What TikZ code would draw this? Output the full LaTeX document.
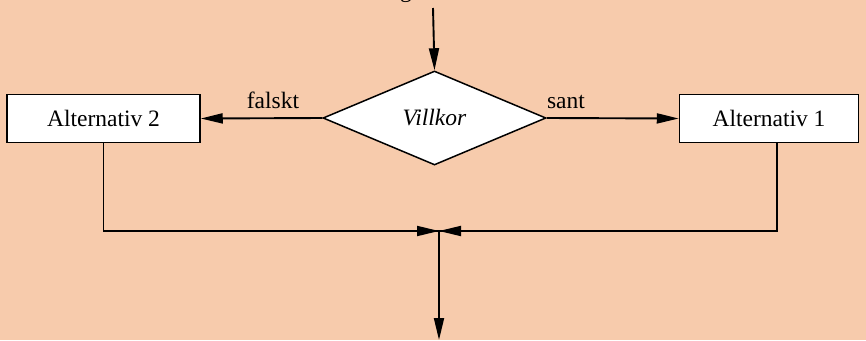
\documentclass[tikz,border=0pt]{standalone}
\usepackage{fontspec}
\setmainfont{Liberation Serif}
\usetikzlibrary{arrows.meta,shapes.geometric}
\definecolor{bgpeach}{RGB}{247,203,172}
\tikzset{
  flow/.style={line width=1.9pt, -{Triangle[length=22pt,width=10pt]}},
  plain/.style={line width=1.9pt},
  procbox/.style={draw, line width=1.5pt, fill=white, minimum width=193pt, minimum height=48pt, inner sep=0pt, font=\fontsize{23.5}{26}\selectfont},
  cond/.style={draw, line width=1.5pt, fill=white, diamond, aspect=2.37, minimum width=223pt, minimum height=94pt, inner sep=0pt, font=\fontsize{23.5}{26}\selectfont\itshape},
  lbl/.style={font=\fontsize{23.5}{26}\selectfont, inner sep=0pt}
}
\begin{document}
\begin{tikzpicture}[x=1pt,y=-1pt]
  \path[fill=bgpeach] (0,0) rectangle (866,340);
  \useasboundingbox (0,0) rectangle (866,340);
  % entry label, mostly above the page edge
  \node[lbl, anchor=base] (entry) at (406,-2) {g};
  \coordinate (top) at (433,8);
  \coordinate (join) at (439,231);
  \coordinate (out) at (439,340);
  \node[cond] (villkor) at (434.5,118) {Villkor};
  \node[procbox] (alt2) at (103.5,118.5) {Alternativ 2};
  \node[procbox, minimum width=179pt] (alt1) at (769,118.5) {Alternativ 1};
  \draw[flow] (top) -- (villkor.north);
  \draw[flow] (villkor.west) -- (alt2.east);
  \draw[flow] (villkor.east) -- (alt1.west);
  \node[lbl, anchor=base] (falskt) at (273,108) {falskt};
  \node[lbl, anchor=base] (sant) at (566,108) {sant};
  \draw[plain] (alt2.south) |- (join) ;
  \draw[flow] ([xshift=-60pt]join) -- (join);
  \draw[plain] (alt1.south -| 777,0) |- (join);
  \draw[flow] ([xshift=60pt]join) -- (join);
  \draw[flow] (join) -- (out);
\end{tikzpicture}
\end{document}
